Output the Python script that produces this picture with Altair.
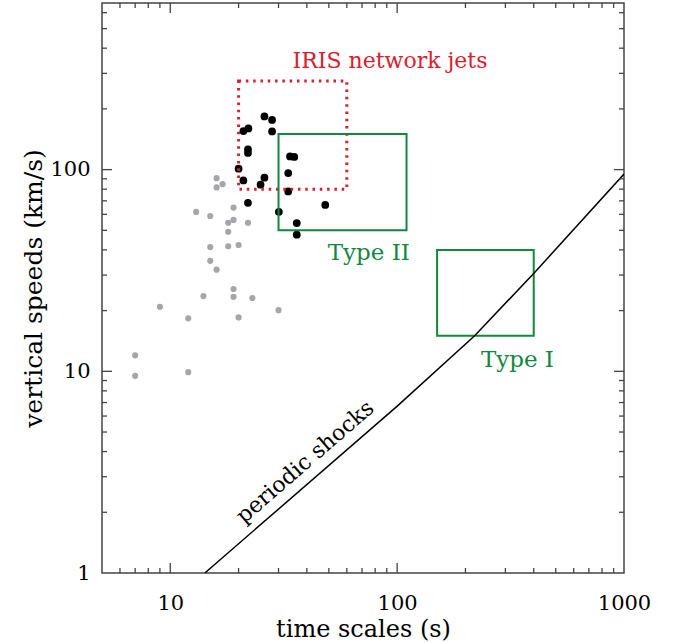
import altair as alt
import pandas as pd

# ---------------- data ----------------
gray_t = [16, 17, 16, 13, 15, 19, 18, 19, 22, 18, 15, 18, 20, 15, 16, 19, 14, 19, 23, 9, 30, 12, 20, 7, 7, 12]
gray_v = [90.7, 84.7, 81.6, 61.7, 58.9, 64.8, 54.5, 56.3, 54.5, 49.2, 41.3, 41.7, 42.3, 35.3, 31.9, 25.6, 23.6, 23.4, 23.1, 20.9, 20.1, 18.3, 18.5, 12.0, 9.5, 9.9]

black_t = [26.0, 28.1, 28.1, 21.0, 22.1, 22.0, 22.0, 20.0, 21.0, 26.0, 25.0, 33.7, 35.2, 33.1, 33.1, 22.0, 30.1, 48.2, 36.1, 36.1]
black_v = [183.6, 176.4, 154.7, 155.3, 160.1, 126.0, 121.0, 101.0, 88.4, 91.2, 84.2, 116.3, 115.6, 96.1, 78.0, 68.5, 61.8, 66.8, 54.3, 47.6]

box_names = ["IRIS", "Type II", "Type I"]
box_t1 = [20, 30, 150]
box_t2 = [60, 110, 400]
box_v1 = [80, 50, 15]
box_v2 = [275, 150, 40]

shock_t = [14.2, 99.8, 219.6, 405.6, 1000]
shock_v = [1.0, 6.7, 15.0, 31.1, 95.0]

x_major = [10, 100]
x_minor = [6, 7, 8, 9, 20, 30, 40, 50, 60, 70, 80, 90, 200, 300, 400, 500, 600, 700, 800, 900]
y_major = [10, 100]
y_minor = [2, 3, 4, 5, 6, 7, 8, 9, 20, 30, 40, 50, 60, 70, 80, 90, 200, 300, 400, 500, 600]

x_labels = [10, 100, 1000]
y_labels = [1, 10, 100]

labels_text = ["IRIS network jets", "Type II", "Type I"]
labels_t = [93, 75, 339]
labels_v = [344, 38.4, 11.4]
labels_color = ["#d9202e", "#12873f", "#12873f"]
labels_size = [22, 23, 23]

shock_label = ["periodic shocks"]
shock_label_t = [39.3]
shock_label_v = [3.56]

# ---------------- chart ----------------
W, H = 522, 570
FONT = "DejaVu Serif"
RED = "#d9202e"
GREEN = "#12873f"

xs = alt.Scale(type="log", domain=[5, 1000], nice=False)
ys = alt.Scale(type="log", domain=[1, 670], nice=False)

gray_df = pd.DataFrame({"t": gray_t, "v": gray_v})
black_df = pd.DataFrame({"t": black_t, "v": black_v})
box_df = pd.DataFrame({"name": box_names, "t1": box_t1, "t2": box_t2, "v1": box_v1, "v2": box_v2})
shock_df = pd.DataFrame({"t": shock_t, "v": shock_v})
lab_df = pd.DataFrame({"text": labels_text, "t": labels_t, "v": labels_v, "c": labels_color,
                       "s": labels_size})
slab_df = pd.DataFrame({"text": shock_label, "t": shock_label_t, "v": shock_label_v})

xaxis = alt.Axis(values=x_labels, format="d", ticks=False, domain=False, grid=False,
                 labelFont=FONT, labelFontSize=21, labelColor="black", labelPadding=19,
                 labelFlush=False, labelOverlap=False, labelBound=False,
                 title="time scales (s)", titleFont=FONT, titleFontSize=24,
                 titleFontWeight="normal", titleColor="black", titlePadding=4)
yaxis = alt.Axis(values=y_labels, format="d", ticks=False, domain=False, grid=False,
                 labelFont=FONT, labelFontSize=21, labelColor="black", labelPadding=12,
                 labelFlush=False, labelOverlap=False, labelBound=False,
                 title="vertical speeds (km/s)", titleFont=FONT, titleFontSize=25,
                 titleFontWeight="normal", titleColor="black", titlePadding=3)

gray = alt.Chart(gray_df).mark_circle(size=38, color="#a6a6aa", opacity=1).encode(
    x=alt.X("t:Q", scale=xs, axis=xaxis),
    y=alt.Y("v:Q", scale=ys, axis=yaxis),
)
black = alt.Chart(black_df).mark_circle(size=60, color="black", opacity=1).encode(
    x=alt.X("t:Q", scale=xs), y=alt.Y("v:Q", scale=ys)
)

iris_box = alt.Chart(box_df).transform_filter(alt.datum.name == "IRIS").mark_rect(
    fillOpacity=0, stroke=RED, strokeWidth=3, strokeDash=[2.5, 4.8]
).encode(x=alt.X("t1:Q", scale=xs), x2="t2:Q", y=alt.Y("v1:Q", scale=ys), y2="v2:Q")

type_boxes = alt.Chart(box_df).transform_filter(alt.datum.name != "IRIS").mark_rect(
    fillOpacity=0, stroke=GREEN, strokeWidth=2
).encode(x=alt.X("t1:Q", scale=xs), x2="t2:Q", y=alt.Y("v1:Q", scale=ys), y2="v2:Q")

shock = alt.Chart(shock_df).mark_line(color="black", strokeWidth=1.5, clip=True).encode(
    x=alt.X("t:Q", scale=xs), y=alt.Y("v:Q", scale=ys)
)

labels = alt.Chart(lab_df).mark_text(font=FONT, align="center", baseline="middle").encode(
    x=alt.X("t:Q", scale=xs), y=alt.Y("v:Q", scale=ys), text="text:N",
    color=alt.Color("c:N", scale=None),
    size=alt.Size("s:Q", scale=None, legend=None),
)
slabel = alt.Chart(slab_df).mark_text(font=FONT, fontSize=22, align="center", baseline="middle",
                                      angle=319, color="black").encode(
    x=alt.X("t:Q", scale=xs), y=alt.Y("v:Q", scale=ys), text="text:N"
)

TICK_COLOR = "#444444"
tick_layers = []
for vals, ln in [(x_major, 10), (x_minor, 5)]:
    d = pd.DataFrame({"t": vals})
    tick_layers.append(alt.Chart(d).mark_rule(color=TICK_COLOR, strokeWidth=1.3).encode(
        x=alt.X("t:Q", scale=xs), y=alt.value(H), y2=alt.value(H - ln)))
    tick_layers.append(alt.Chart(d).mark_rule(color=TICK_COLOR, strokeWidth=1.3).encode(
        x=alt.X("t:Q", scale=xs), y=alt.value(0), y2=alt.value(ln)))
for vals, ln in [(y_major, 10), (y_minor, 5)]:
    d = pd.DataFrame({"v": vals})
    tick_layers.append(alt.Chart(d).mark_rule(color=TICK_COLOR, strokeWidth=1.3).encode(
        y=alt.Y("v:Q", scale=ys), x=alt.value(0), x2=alt.value(ln)))
    tick_layers.append(alt.Chart(d).mark_rule(color=TICK_COLOR, strokeWidth=1.3).encode(
        y=alt.Y("v:Q", scale=ys), x=alt.value(W), x2=alt.value(W - ln)))

chart = alt.layer(
    gray, black, iris_box, type_boxes, shock, labels, slabel, *tick_layers
).properties(
    width=W, height=H,
    autosize=alt.AutoSizeParams(type="none"),
    padding={"left": 102, "top": 3, "right": 54, "bottom": 70},
    background="white",
).configure_view(
    stroke="#444444", strokeWidth=1.5
)

chart.save("out.html", embed_options={"renderer": "svg", "actions": False})
